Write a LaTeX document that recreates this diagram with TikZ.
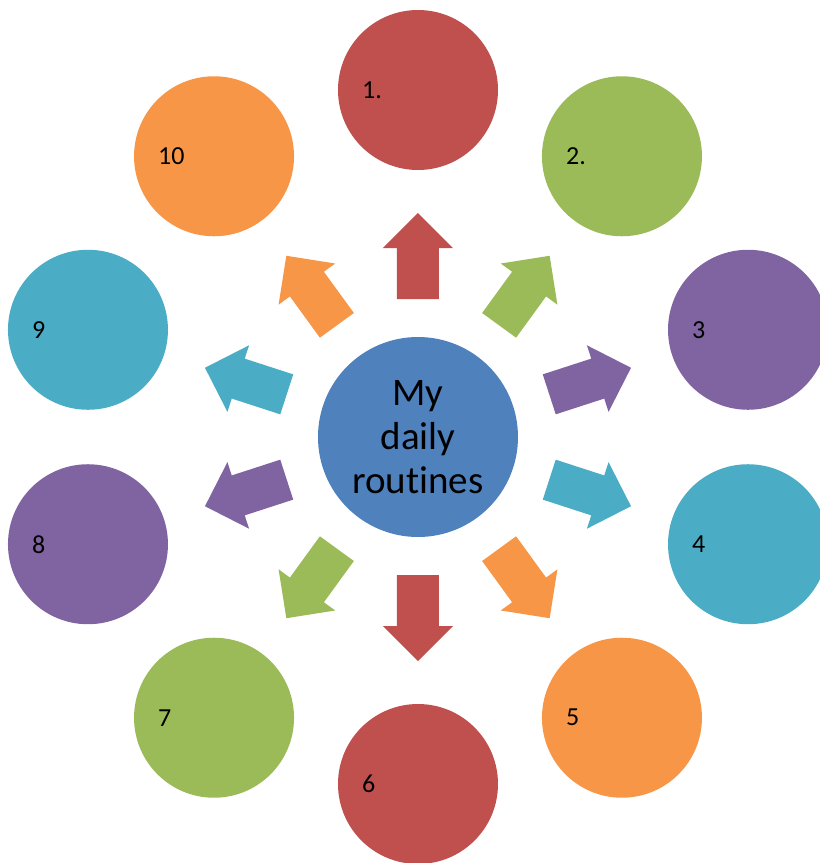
\documentclass[tikz,border=0pt]{standalone}
\usepackage{fontspec}
\setmainfont{Carlito}[Ligatures={NoCommon}]
\definecolor{cred}{HTML}{C0504D}
\definecolor{cgreen}{HTML}{9BBB59}
\definecolor{cpurple}{HTML}{8064A2}
\definecolor{caqua}{HTML}{4BACC6}
\definecolor{corange}{HTML}{F79646}
\definecolor{cblue}{HTML}{4F81BD}
\begin{document}
\begin{tikzpicture}[x=1pt,y=1pt,
  outercircle/.style={circle, minimum size=160pt, inner sep=0pt, draw=none},
  numlabel/.style={anchor=west, inner sep=0pt, text=black, font=\fontsize{26}{31}\selectfont},
  hubcircle/.style={circle, fill=cblue, minimum size=200pt, inner sep=0pt, align=center, text=black, font=\fontsize{39}{44}\selectfont}]
\useasboundingbox (-418,-426) rectangle (402,437);
\node[hubcircle] (hub) at (0,0) {My\\daily\\routines};
\foreach \k/\c/\t in {1/cred/1., 2/cgreen/2., 3/cpurple/3, 4/caqua/4, 5/corange/5, 6/cred/6, 7/cgreen/7, 8/cpurple/8, 9/caqua/9, 10/corange/10} {
  \pgfmathsetmacro\a{90-36*(\k-1)}
  \node[outercircle, fill=\c] (c\k) at (\a:347) {};
  \node[numlabel] (t\k) at ([xshift=-56pt]c\k.center) {\t};
  \fill[\c, rotate=\a] (138,-21) -- (189,-21) -- (189,-35) -- (224,0) -- (189,35) -- (189,21) -- (138,21) -- cycle;
}
\end{tikzpicture}
\end{document}
